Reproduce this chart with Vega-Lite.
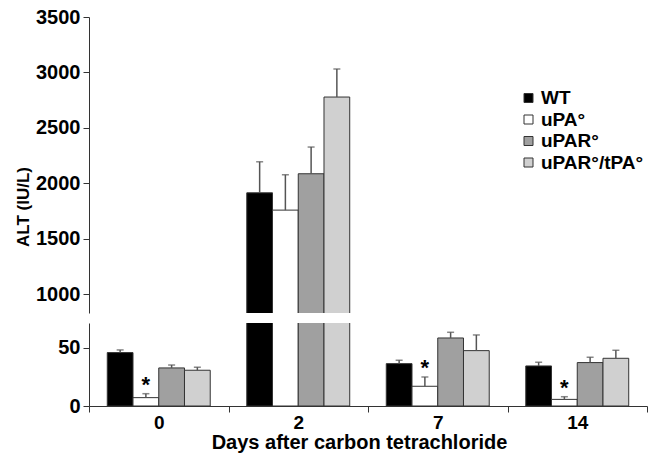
{
  "$schema": "https://vega.github.io/schema/vega-lite/v6.json",
  "padding": {"left": 14, "top": 7, "right": 0, "bottom": 1},
  "background": "white",
  "config": {
    "font": "Liberation Sans",
    "view": {"stroke": null},
    "axis": {"labelFont": "Liberation Sans", "titleFont": "Liberation Sans", "labelFontWeight": "bold", "titleFontWeight": "bold", "domainColor": "#333", "tickColor": "#333", "labelColor": "#000", "titleColor": "#000", "grid": false}
  },
  "data": {"values": [
    {"day": "0", "group": "WT", "value": 46, "upper": 48.3, "star": false},
    {"day": "0", "group": "uPA°", "value": 7.2, "upper": 10.6, "star": true},
    {"day": "0", "group": "uPAR°", "value": 32.8, "upper": 35.3, "star": false},
    {"day": "0", "group": "uPAR°/tPA°", "value": 30.8, "upper": 33.4, "star": false},
    {"day": "2", "group": "WT", "value": 1914, "upper": 2194, "star": false},
    {"day": "2", "group": "uPA°", "value": 1758, "upper": 2077, "star": false},
    {"day": "2", "group": "uPAR°", "value": 2086, "upper": 2327, "star": false},
    {"day": "2", "group": "uPAR°/tPA°", "value": 2778, "upper": 3031, "star": false},
    {"day": "7", "group": "WT", "value": 36.5, "upper": 39.4, "star": false},
    {"day": "7", "group": "uPA°", "value": 17, "upper": 25, "star": true},
    {"day": "7", "group": "uPAR°", "value": 58.6, "upper": 63.5, "star": false},
    {"day": "7", "group": "uPAR°/tPA°", "value": 47.7, "upper": 61.2, "star": false},
    {"day": "14", "group": "WT", "value": 34.5, "upper": 37.7, "star": false},
    {"day": "14", "group": "uPA°", "value": 5.7, "upper": 8, "star": true},
    {"day": "14", "group": "uPAR°", "value": 37.4, "upper": 42, "star": false},
    {"day": "14", "group": "uPAR°/tPA°", "value": 41.1, "upper": 48, "star": false}
  ]},
  "spacing": 10,
  "resolve": {"legend": {"color": "independent"}},
  "vconcat": [
    {
      "width": 558,
      "height": 296,
      "encoding": {
        "x": {"field": "day", "type": "ordinal", "sort": ["0", "2", "7", "14"], "scale": {"paddingInner": 0, "paddingOuter": 0}, "axis": null},
        "xOffset": {"field": "group", "type": "nominal", "sort": ["WT", "uPA°", "uPAR°", "uPAR°/tPA°"], "scale": {"paddingInner": 0, "paddingOuter": 0.71}}
      },
      "layer": [
        {
          "mark": {"type": "bar", "clip": true, "stroke": "#333", "strokeWidth": 1},
          "encoding": {
            "y": {"field": "value", "type": "quantitative", "scale": {"domain": [830, 3500], "nice": false, "zero": false},
              "axis": {"values": [1000, 1500, 2000, 2500, 3000, 3500], "format": "d", "title": "ALT (IU/L)", "titleX": -61, "titleY": 189.5, "titleBaseline": "alphabetic", "titleFontSize": 17, "labelFontSize": 20, "tickSize": 6, "labelPadding": 3}},
            "color": {"field": "group", "type": "nominal", "sort": ["WT", "uPA°", "uPAR°", "uPAR°/tPA°"],
              "scale": {"domain": ["WT", "uPA°", "uPAR°", "uPAR°/tPA°"], "range": ["#000000", "#ffffff", "#a0a0a0", "#d0d0d0"]},
              "legend": {"title": null, "orient": "none", "legendX": 430, "legendY": 71.5, "symbolType": "square", "symbolSize": 81, "labelFontSize": 19, "labelFontWeight": "bold", "labelFont": "Liberation Sans", "rowPadding": 1.5, "symbolStrokeColor": "#333", "symbolStrokeWidth": 1, "padding": 0, "labelOffset": 3}}
          }
        },
        {
          "mark": {"type": "rule", "clip": true, "color": "#555", "strokeWidth": 1.5},
          "encoding": {"y": {"field": "value", "type": "quantitative"}, "y2": {"field": "upper"}}
        },
        {
          "mark": {"type": "tick", "clip": true, "color": "#555", "orient": "horizontal", "size": 7, "thickness": 1.5},
          "encoding": {"y": {"field": "upper", "type": "quantitative"}}
        }
      ]
    },
    {
      "width": 558,
      "height": 83,
      "encoding": {
        "x": {"field": "day", "type": "ordinal", "sort": ["0", "2", "7", "14"], "scale": {"paddingInner": 0, "paddingOuter": 0},
          "axis": {"title": "Days after carbon tetrachloride", "labelAngle": 0, "labelFontSize": 19, "titleFontSize": 20, "tickBand": "extent", "tickSize": 6, "labelPadding": 1, "titlePadding": 0, "titleX": 270}},
        "xOffset": {"field": "group", "type": "nominal", "sort": ["WT", "uPA°", "uPAR°", "uPAR°/tPA°"], "scale": {"paddingInner": 0, "paddingOuter": 0.71}}
      },
      "layer": [
        {
          "mark": {"type": "bar", "clip": true, "stroke": "#333", "strokeWidth": 1},
          "encoding": {
            "y": {"field": "value", "type": "quantitative", "scale": {"domain": [0, 71.5], "nice": false},
              "axis": {"values": [0, 50], "title": null, "labelFontSize": 20, "tickSize": 6, "labelPadding": 3}},
            "color": {"field": "group", "type": "nominal", "sort": ["WT", "uPA°", "uPAR°", "uPAR°/tPA°"], "legend": null}
          }
        },
        {
          "mark": {"type": "rule", "clip": true, "color": "#555", "strokeWidth": 1.5},
          "encoding": {"y": {"field": "value", "type": "quantitative"}, "y2": {"field": "upper"}}
        },
        {
          "mark": {"type": "tick", "clip": true, "color": "#555", "orient": "horizontal", "size": 7, "thickness": 1.5},
          "encoding": {"y": {"field": "upper", "type": "quantitative"}}
        },
        {
          "transform": [{"filter": "datum.star"}],
          "mark": {"type": "text", "text": "*", "fontSize": 22, "fontWeight": "bold", "baseline": "alphabetic", "dy": -2, "color": "#000"},
          "encoding": {"y": {"field": "upper", "type": "quantitative"}}
        }
      ]
    }
  ]
}
